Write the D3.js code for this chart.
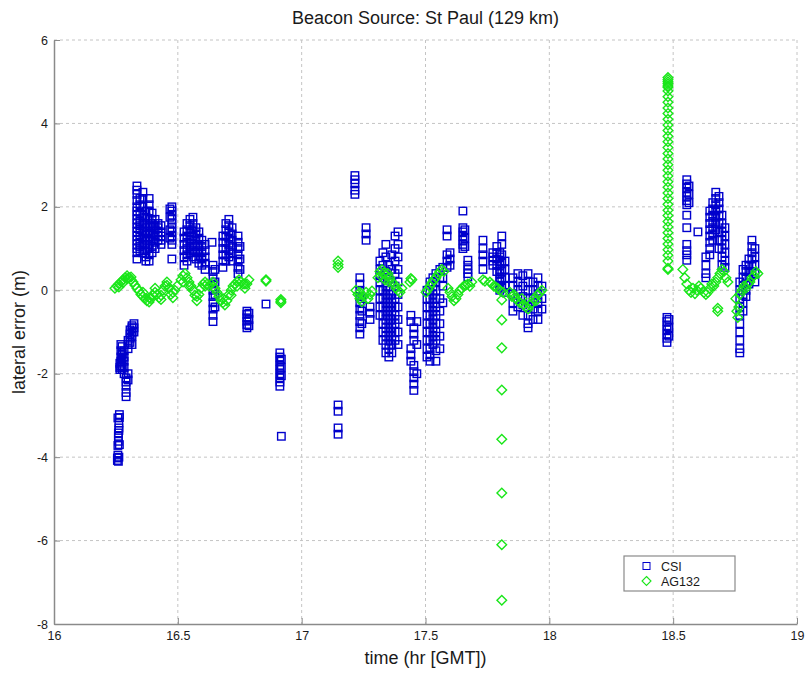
<!DOCTYPE html>
<html>
<head>
<meta charset="utf-8">
<script src="https://cdn.jsdelivr.net/npm/d3@7"></script>
<style>
  body { margin: 0; background: #fff; }
  text { font-family: "Liberation Sans", Arial, Helvetica, sans-serif; }
</style>
</head>
<body>
<svg id="chart" width="805" height="675"></svg>
<script>
// Axis ticks
const xTicks = [16, 16.5, 17, 17.5, 18, 18.5, 19];
const yTicks = [-8, -6, -4, -2, 0, 2, 4, 6];
const seriesNames = ["CSI", "AG132"];

// Each row: [time (hr GMT), [lateral errors (m) logged at that time]]
const csiPass1 = [
  [16.256,[-4.08,-4.02]],[16.258,[-3.95,-3.72,-3.06]],[16.260,[-4.1,-3.62,-3.5,-3.42]],
  [16.262,[-3.36,-3.3,-3.18,-4.0]],[16.264,[-3.05,-3.7,-2.98]],[16.266,[-1.9,-1.85,-1.75]],
  [16.270,[-1.3,-1.45,-1.6,-1.7,-1.82]],[16.275,[-1.35,-1.5,-1.55,-1.65,-1.8,-1.9]],
  [16.283,[-1.45,-1.6,-1.7,-1.85,-2.0]],[16.291,[-2.1,-2.2,-2.3,-2.45,-2.55]],
  [16.299,[-1.2,-1.3,-1.4,-2.0,-2.15]],[16.307,[-0.95,-1.05,-1.15,-1.25]],
  [16.315,[-0.85,-0.9,-1.0,-1.1,-1.3]],[16.323,[-0.8,-0.9,-1.0]],
  [16.335,[2.5,2.4,2.3,2.15,2.0,1.9,1.8,1.7,1.6,1.5,1.4,1.3,1.2,1.1,1.0,0.9,0.75]],
  [16.347,[2.2,2.05,1.85,1.65,1.55,1.45,1.3,1.15,1.05,0.95]],
  [16.359,[2.35,2.2,2.0,1.8,1.6,1.4,1.25,1.1,0.9]],
  [16.371,[1.9,1.75,1.6,1.5,1.35,1.2,1.1,0.95,0.8,0.7]],
  [16.384,[2.2,2.05,1.9,1.7,1.55,1.4,1.25,1.1,1.0,0.85,0.7]],
  [16.396,[1.85,1.7,1.6,1.5,1.35,1.2,1.05,0.9]],
  [16.408,[1.7,1.55,1.45,1.3,1.15,1.0]],[16.420,[1.6,1.5,1.4,1.3,1.2]],
  [16.432,[1.55,1.4,1.3,1.2,1.1]],[16.468,[1.95,1.75,1.45,1.25]],
  [16.476,[2.0,1.9,1.8,1.7,1.6,1.5,1.4,1.3,1.2,1.1,0.75]],
  [16.525,[1.4,1.25,1.1,0.95,0.8,0.6]],[16.537,[1.6,1.45,1.3,1.15,1.0,0.85,0.7]],
  [16.549,[1.7,1.55,1.4,1.2,1.05,0.9]],[16.561,[1.75,1.6,1.45,1.3,1.1,0.95,0.8]],
  [16.573,[1.5,1.35,1.2,1.05,0.9,0.75]],[16.585,[1.4,1.25,1.1,0.95,0.8,0.65]],
  [16.597,[1.2,1.05,0.9,0.75,0.6]],[16.610,[1.1,0.95,0.8,0.65,0.5]],[16.638,[1.15]],
  [16.642,[0.6,0.45,0.3,0.15,0.0,-0.15,-0.3,-0.45,-0.6,-0.75]],[16.650,[0.5,0.2,-0.1,-0.4]],
  [16.682,[1.3,1.15,1.0,0.85,0.7,0.55]],[16.694,[1.6,1.45,1.3,1.15,1.0,0.85,0.7]],
  [16.706,[1.7,1.55,1.4,1.25,1.1,0.95,0.8]],[16.719,[1.5,1.35,1.2,1.05,0.9,0.7]],
  [16.743,[1.3,1.15,1.0,0.85,0.7,0.55,0.4]],[16.751,[1.05,0.75,0.5]],
  [16.779,[-0.5,-0.58,-0.66,-0.74,-0.82,-0.9]],[16.787,[-0.55,-0.7,-0.85]],
  [16.856,[-0.33]],[16.912,[-1.5,-1.6,-1.7,-1.8,-1.9,-2.0,-2.1,-2.2,-2.3]],
  [16.918,[-1.65,-1.85,-2.05,-3.5]]
];
const csiPass2 = [
  [17.147,[-2.75,-2.9,-3.3,-3.45]],[17.215,[2.75,2.65,2.55,2.4,2.3]],
  [17.235,[0.3,0.15,0.0,-0.15,-0.3,-0.45,-0.6,-0.75,-0.9,-1.05]],[17.243,[-0.2,-0.5,-0.8]],
  [17.260,[1.5,1.35,1.2]],[17.276,[-0.4,-0.55,-0.7]],
  [17.316,[0.7,0.5,0.35,0.2,0.0,-0.2,-0.4,-0.6]],
  [17.328,[0.9,0.6,0.3,0.0,-0.2,-0.4,-0.6,-0.8,-1.0,-1.2]],
  [17.340,[1.1,0.8,0.45,0.1,-0.1,-0.3,-0.5,-0.7,-0.9,-1.1,-1.3,-1.5]],
  [17.352,[0.6,0.3,0.0,-0.2,-0.4,-0.6,-0.8,-1.0,-1.2,-1.4,-1.6]],
  [17.364,[0.85,0.5,0.2,-0.1,-0.3,-0.5,-0.7,-0.9,-1.1,-1.3,-1.5]],
  [17.377,[1.3,1.0,0.7,0.4,0.1,-0.2,-0.4,-0.6,-0.8,-1.0,-1.2]],
  [17.389,[1.4,1.1,0.8,0.5,0.2,-0.1,-0.4,-0.7,-1.0,-1.3]],
  [17.441,[-0.6,-0.75,-1.4,-1.55,-1.7]],[17.453,[-0.9,-1.05,-1.2,-1.8,-1.95,-2.1,-2.25,-2.4]],
  [17.465,[-0.75,-1.3,-2.0]],
  [17.506,[0.0,-0.2,-0.4,-0.6,-0.8,-1.0,-1.2,-1.4,-1.6]],
  [17.518,[0.2,0.0,-0.2,-0.4,-0.6,-0.8,-1.0,-1.2,-1.4,-1.55,-1.7]],
  [17.530,[0.3,0.1,-0.1,-0.3,-0.5,-0.7,-0.9,-1.1,-1.3]],
  [17.542,[0.4,0.2,0.0,-0.2,-0.4,-0.6,-0.8,-1.0,-1.2,-1.45,-1.7]],
  [17.558,[0.5,0.3,-0.2,-0.5,-0.8,-1.1,-1.4]],[17.570,[0.55,0.3,0.1,-0.3]],
  [17.587,[1.45,1.3,0.85,0.7,0.55]],[17.599,[0.9,0.75,0.6]],
  [17.651,[1.9,1.5,1.4,1.3,1.2,1.1,1.0]],[17.659,[1.45,1.25,1.05]],
  [17.671,[0.72,0.6,0.5,0.4,0.32]],[17.732,[1.2,1.0,0.85,0.7,0.5]],
  [17.772,[0.9,0.8,0.7,0.6]],[17.788,[1.05,0.9,0.75,0.6,0.45]],
  [17.800,[0.9,0.8,0.7,0.6,0.5,0.4,0.3,0.2,0.1,0.0]],
  [17.808,[1.3,1.1,0.85,0.65,0.45,0.25,0.05]],[17.821,[0.7,0.5,0.3,0.1,-0.05]],
  [17.853,[0.3,0.1,-0.1,-0.3,-0.5]],[17.873,[0.4,0.2,0.0,-0.2,-0.4]],
  [17.893,[0.35,0.1,-0.15,-0.35,-0.6]],[17.914,[0.4,0.2,0.0,-0.2,-0.4,-0.6,-0.8,-0.9]],
  [17.934,[0.2,0.0,-0.2,-0.45,-0.7]],[17.954,[0.3,0.1,-0.1,-0.3,-0.5,-0.7]],
  [17.970,[0.1,-0.2,-0.45]]
];
const csiPass3 = [
  [18.475,[-0.65,-0.75,-0.85,-0.95,-1.05,-1.15,-1.25]],[18.483,[-0.7,-0.9,-1.1]],
  [18.555,[2.65,2.55,2.45,2.35,2.25,2.15,2.05,1.8,1.5,1.1,0.95,0.85,0.72]],
  [18.564,[2.5,2.3,2.1]],[18.600,[1.4]],[18.632,[0.8,0.6,0.4,0.3]],
  [18.648,[1.9,1.75,1.6,1.45,1.3,1.15,1.0,0.85]],[18.660,[2.1,1.95,1.8,1.65,1.5,1.35,1.2]],
  [18.672,[2.35,2.2,2.05,1.9,1.75,1.6,1.45]],[18.685,[2.25,2.1,1.95,1.8,1.6,1.4,1.2,1.0]],
  [18.697,[1.8,1.6,1.4,1.2,1.0,0.8,0.6]],[18.709,[1.5,1.3,1.1,0.9,0.7,0.55]],
  [18.769,[0.2,0.0,-0.2,-0.4,-0.6,-0.8,-1.0,-1.2,-1.4,-1.5]],
  [18.782,[0.5,0.3,0.1,-0.1,-0.3,-0.5]],[18.794,[0.6,0.45,0.3,0.15,0.0,-0.15]],
  [18.806,[0.75,0.6,0.45,0.3,0.15]],[18.818,[1.2,1.05,0.9,0.75,0.6,0.45]],
  [18.830,[1.0,0.8,0.6,0.4,0.2]]
];

const agPass1 = [
  [16.246,[0.05]],[16.254,[0.1]],[16.262,[0.15,0.08]],[16.270,[0.2]],[16.279,[0.25,0.18]],
  [16.287,[0.3]],[16.295,[0.35,0.28]],[16.303,[0.3]],[16.311,[0.25,0.32]],[16.319,[0.2]],
  [16.327,[0.12]],[16.335,[0.05]],[16.343,[-0.02]],[16.351,[-0.1]],[16.359,[-0.15,-0.05]],
  [16.367,[-0.2]],[16.375,[-0.25]],[16.384,[-0.28,-0.18]],[16.392,[-0.2]],[16.400,[-0.12]],
  [16.408,[-0.05,0.05]],[16.416,[-0.1]],[16.424,[-0.18]],[16.432,[-0.22,-0.12]],[16.440,[0.0]],
  [16.448,[0.1]],[16.456,[0.2,0.12]],[16.464,[0.05]],[16.472,[-0.1]],[16.480,[-0.18,-0.05]],
  [16.488,[0.0]],[16.497,[0.1]],[16.513,[0.25]],[16.521,[0.35,0.2]],[16.529,[0.4]],
  [16.537,[0.3]],[16.545,[0.2,0.1]],[16.553,[0.1]],[16.561,[0.0]],[16.569,[-0.12]],
  [16.577,[-0.25,-0.15]],[16.585,[-0.1]],[16.593,[0.05]],[16.602,[0.15]],[16.610,[0.2,0.1]],
  [16.618,[0.15]],[16.626,[0.1]],[16.634,[0.15]],[16.642,[0.2,0.08]],[16.650,[0.05]],
  [16.658,[-0.05]],[16.666,[-0.15]],[16.674,[-0.25]],[16.682,[-0.3,-0.2]],[16.690,[-0.35]],
  [16.698,[-0.25]],[16.706,[-0.1]],[16.715,[0.0,-0.12]],[16.723,[0.1]],[16.731,[0.15]],
  [16.739,[0.2,0.1]],[16.747,[0.25]],[16.755,[0.2]],[16.763,[0.15]],[16.771,[0.05,0.15]],
  [16.779,[0.15]],[16.787,[0.25]],[16.856,[0.25,0.22]],[16.916,[-0.3,-0.26,-0.22]]
];
const agPass2 = [
  [17.147,[0.7,0.62,0.55]],
  [17.219,[0.0]],[17.227,[-0.1]],[17.235,[-0.2,-0.05]],[17.243,[-0.28]],[17.251,[-0.15]],
  [17.260,[-0.05]],[17.268,[-0.2]],[17.276,[-0.1]],[17.284,[-0.02]],
  [17.308,[0.3]],[17.316,[0.45]],[17.320,[0.35]],[17.324,[0.5]],[17.332,[0.42]],[17.336,[0.25]],
  [17.340,[0.35]],[17.348,[0.4]],[17.352,[0.2]],[17.356,[0.3]],[17.364,[0.2]],[17.373,[0.15]],
  [17.381,[0.05]],[17.389,[0.0]],[17.397,[-0.05]],[17.405,[0.05]],
  [17.437,[0.2]],[17.441,[0.28]],[17.445,[0.25]],
  [17.502,[-0.05]],[17.510,[0.02]],[17.518,[0.1]],[17.526,[0.18]],[17.534,[0.25]],[17.542,[0.3]],
  [17.550,[0.38]],[17.558,[0.45]],[17.566,[0.5]],[17.574,[0.45]],
  [17.591,[0.05]],[17.599,[-0.05]],[17.607,[-0.15]],[17.615,[-0.25]],[17.623,[-0.2]],[17.631,[-0.1]],
  [17.639,[0.0]],[17.647,[0.05]],[17.655,[0.1]],[17.663,[0.12]],[17.671,[0.15]],[17.679,[0.1]],
  [17.687,[0.2]],[17.732,[0.25]],[17.740,[0.22]],
  [17.760,[0.2]],[17.768,[0.15]],[17.776,[0.1]],[17.784,[0.08]],[17.792,[0.05]],[17.800,[0.0]],
  [17.813,[-0.05]],[17.808,[-0.23,-0.71,-1.38,-2.39,-3.57,-4.86,-6.1,-7.43]],
  [17.841,[-0.05]],[17.849,[-0.15]],[17.857,[-0.1]],[17.865,[-0.2]],[17.873,[-0.25]],[17.881,[-0.3]],
  [17.889,[-0.2]],[17.897,[-0.35]],[17.905,[-0.4]],[17.914,[-0.45]],[17.922,[-0.35]],[17.930,[-0.3]],
  [17.938,[-0.2]],[17.946,[-0.25]],[17.954,[-0.1]],[17.962,[-0.05]],[17.970,[0.0]]
];
const agPass3 = [
  [18.479,[5.1,5.05,5.0,4.95,4.9,4.87,4.78,4.64,4.51,4.37,4.24,4.1,3.96,3.83,3.69,3.56,3.42,
           3.28,3.15,3.01,2.88,2.74,2.6,2.47,2.33,2.2,2.06,1.92,1.79,1.65,1.52,1.38,1.24,1.11,
           0.97,0.84,0.7,0.53,0.5]],
  [18.539,[0.5]],[18.547,[0.3]],[18.555,[0.15]],[18.564,[0.0]],[18.572,[-0.05]],[18.580,[0.05]],
  [18.588,[-0.08]],[18.596,[0.0]],[18.604,[0.1]],[18.612,[0.05]],
  [18.624,[-0.05]],[18.632,[-0.1]],[18.640,[-0.05]],[18.648,[0.05]],[18.656,[0.15]],[18.664,[0.1]],
  [18.672,[0.2]],[18.680,[0.3,-0.43,-0.5]],[18.689,[0.4]],[18.697,[0.5]],[18.705,[0.45]],
  [18.713,[0.3]],[18.721,[0.2]],
  [18.753,[-0.2]],[18.757,[-0.5]],[18.761,[-0.65]],[18.765,[-0.4]],[18.769,[-0.1]],[18.777,[0.0]],
  [18.786,[0.1]],[18.794,[0.05]],[18.802,[0.15]],[18.810,[0.2]],[18.818,[0.3]],[18.826,[0.35]],
  [18.834,[0.45]],[18.842,[0.4]]
];

const expand = rows => rows.flatMap(([t, vals]) => vals.map(v => ({ t, v })));
const csiPoints = expand([...csiPass1, ...csiPass2, ...csiPass3]);
const agPoints = expand([...agPass1, ...agPass2, ...agPass3]);

const csiColor = "#0000cc";
const agColor = "#1ae61a";
const axisColor = "#8a8a8a";
const gridColor = "#c4c4c4";

const svg = d3.select("#chart");
svg.append("rect").attr("width", 805).attr("height", 675).attr("fill", "#fff");

const plot = { left: 54, right: 797, top: 40, bottom: 624 };
const x = d3.scaleLinear().domain([16, 19]).range([plot.left, plot.right]);
const y = d3.scaleLinear().domain([-8, 6]).range([plot.bottom, plot.top]);

// dashed grid at every tick
const grid = svg.append("g");
grid.selectAll("line.gx").data(xTicks.slice(1)).join("line")
  .attr("x1", d => x(d)).attr("x2", d => x(d))
  .attr("y1", plot.top).attr("y2", plot.bottom)
  .attr("stroke", gridColor).attr("stroke-width", 1).attr("stroke-dasharray", "3,3");
grid.selectAll("line.gy").data(yTicks.slice(1)).join("line")
  .attr("y1", d => y(d)).attr("y2", d => y(d))
  .attr("x1", plot.left).attr("x2", plot.right)
  .attr("stroke", gridColor).attr("stroke-width", 1).attr("stroke-dasharray", "3,3");

// CSI: hollow squares
const sq = 7.5;
svg.append("g").selectAll("rect").data(csiPoints).join("rect")
  .attr("x", d => x(d.t) - sq / 2).attr("y", d => y(d.v) - sq / 2)
  .attr("width", sq).attr("height", sq)
  .attr("fill", "none").attr("stroke", csiColor).attr("stroke-width", 1.4);

// AG132: hollow diamonds
const dm = 4.8;
const diamond = `M0,${-dm}L${dm},0L0,${dm}L${-dm},0Z`;
svg.append("g").selectAll("path").data(agPoints).join("path")
  .attr("transform", d => `translate(${x(d.t)},${y(d.v)})`)
  .attr("d", diamond)
  .attr("fill", "none").attr("stroke", agColor).attr("stroke-width", 1.4);

// axes
const xAxis = d3.axisBottom(x).tickValues(xTicks).tickFormat(d => String(d))
  .tickSizeInner(-6).tickSizeOuter(0).tickPadding(7);
const yAxis = d3.axisLeft(y).tickValues(yTicks).tickFormat(d => String(d))
  .tickSizeInner(-6).tickSizeOuter(0).tickPadding(6);

const gx = svg.append("g").attr("transform", `translate(0,${plot.bottom})`).call(xAxis);
const gy = svg.append("g").attr("transform", `translate(${plot.left},0)`).call(yAxis);
[gx, gy].forEach(g => {
  g.select(".domain").attr("stroke", axisColor).attr("stroke-width", 1.5);
  g.selectAll(".tick line").attr("stroke", axisColor).attr("stroke-width", 1);
  g.selectAll(".tick text").attr("fill", "#1a1a1a").attr("font-size", 12.5)
    .attr("font-family", "'Liberation Sans', Arial, sans-serif");
});

// titles
svg.append("text").attr("x", (plot.left + plot.right) / 2).attr("y", 24)
  .attr("text-anchor", "middle").attr("font-size", 18).attr("fill", "#1a1a1a")
  .text("Beacon Source: St Paul (129 km)");
svg.append("text").attr("x", (plot.left + plot.right) / 2).attr("y", 664)
  .attr("text-anchor", "middle").attr("font-size", 18).attr("fill", "#1a1a1a")
  .text("time (hr [GMT])");
svg.append("text").attr("transform", `translate(25,${(plot.top + plot.bottom) / 2}) rotate(-90)`)
  .attr("text-anchor", "middle").attr("font-size", 18).attr("fill", "#1a1a1a")
  .text("lateral error (m)");

// legend
const lg = svg.append("g").attr("transform", "translate(624,556)");
lg.append("rect").attr("width", 111).attr("height", 35)
  .attr("fill", "#fff").attr("stroke", axisColor).attr("stroke-width", 1.2);
const entries = lg.selectAll("g.entry").data(seriesNames).join("g")
  .attr("transform", (d, i) => `translate(0,${10 + i * 15})`);
entries.each(function (d, i) {
  const g = d3.select(this);
  if (i === 0) {
    g.append("rect").attr("x", 19).attr("y", -3.5).attr("width", 7).attr("height", 7)
      .attr("fill", "none").attr("stroke", csiColor);
  } else {
    g.append("path").attr("transform", "translate(22.5,0)").attr("d", `M0,-4.5L4.5,0L0,4.5L-4.5,0Z`)
      .attr("fill", "none").attr("stroke", agColor).attr("stroke-width", 1.1);
  }
  g.append("text").attr("x", 37).attr("y", 4.5).attr("font-size", 12.5).attr("fill", "#1a1a1a").text(d);
});
</script>
</body>
</html>
